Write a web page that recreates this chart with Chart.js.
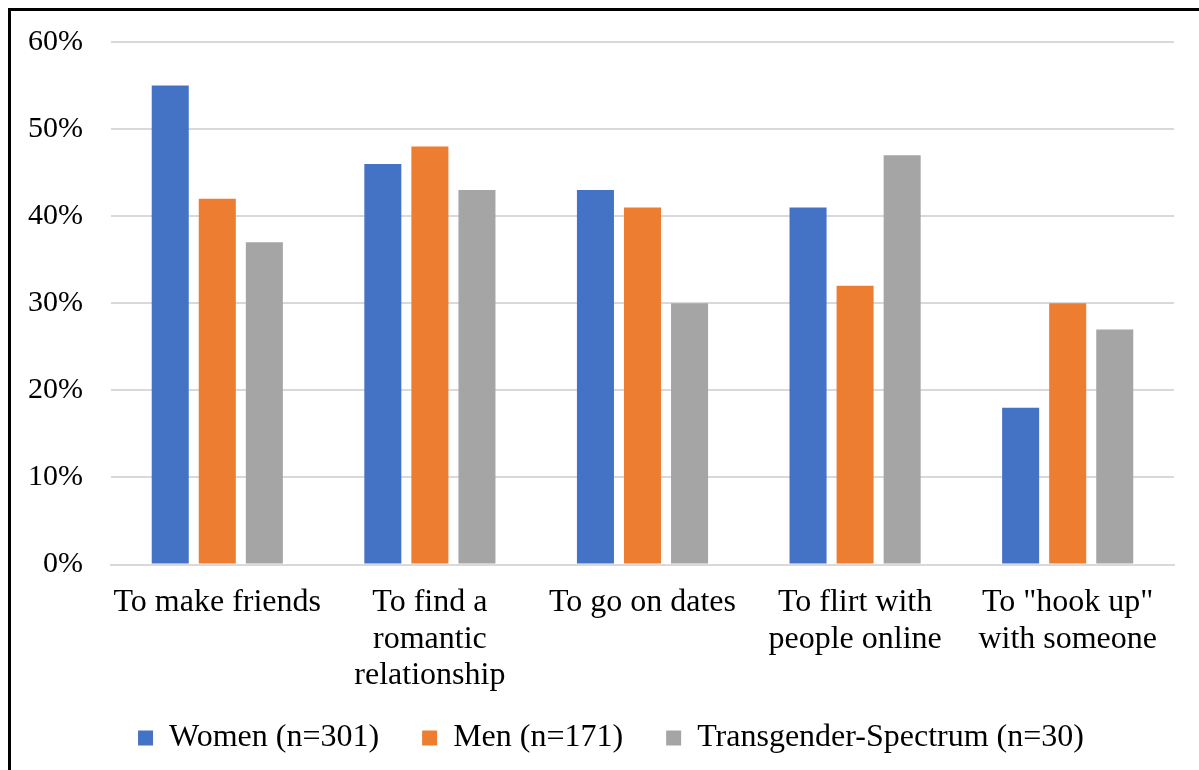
<!DOCTYPE html>
<html>
<head>
<meta charset="utf-8">
<script src="https://cdn.jsdelivr.net/npm/chart.js@4"></script>
<style>
  html, body { margin: 0; padding: 0; background: #fff; overflow: hidden; }
  #frame {
    position: absolute; left: 8px; top: 8px;
    width: 1300px; height: 900px;
    border: 3px solid #000;
  }
  #wrap { position: absolute; left: 0; top: -4px; width: 1199px; height: 774px; }
</style>
</head>
<body>
<div id="frame"></div>
<div id="wrap"><canvas id="reasonsChart" width="1199" height="774"></canvas></div>
<script>
const categories = [
  "To make friends",
  ["To find a", "romantic", "relationship"],
  "To go on dates",
  ["To flirt with", "people online"],
  ["To \"hook up\"", "with someone"],
];
const women = [55, 46, 43, 41, 18];
const men = [42, 48, 41, 32, 30];
const transSpectrum = [37, 43, 30, 47, 27];
const yTicks = [0, 10, 20, 30, 40, 50, 60];

const serif = "'Liberation Serif', 'Times New Roman', serif";

// x labels overlap the legend's top padding, and the legend sits a bit right
const layoutTweaks = {
  id: "layoutTweaks",
  afterLayout: (chart) => {
    chart.scales.x.bottom += 40;
    if (chart.legend) {
      chart.legend.left += 24;
      chart.legend.right += 24;
    }
  },
};

const ctx = document.getElementById("reasonsChart");

new Chart(ctx, {
  type: "bar",
  data: {
    labels: categories,
    datasets: [
      { label: "Women (n=301)", data: women, backgroundColor: "#4472c4" },
      { label: "Men (n=171)", data: men, backgroundColor: "#ed7d31" },
      { label: "Transgender-Spectrum (n=30)", data: transSpectrum, backgroundColor: "#a5a5a5" },
    ],
  },
  options: {
    responsive: false,
    animation: false,
    datasets: {
      bar: { categoryPercentage: 0.664, barPercentage: 0.787 },
    },
    layout: { padding: { top: 12, right: 25, bottom: 6, left: 0 } },
    scales: {
      x: {
        afterFit: (scale) => {
          scale.height -= 27;
        },
        grid: { display: false },
        border: { display: true, color: "#d9d9d9", width: 2 },
        ticks: {
          color: "#000",
          font: { family: serif, size: 32, lineHeight: 1.14 },
          maxRotation: 0,
          autoSkip: false,
          padding: 12,
        },
      },
      y: {
        min: 0,
        max: 60,
        afterBuildTicks: (axis) => {
          axis.ticks = yTicks.map((v) => ({ value: v }));
        },
        grid: { color: "#d9d9d9", lineWidth: 2, drawTicks: false },
        border: { display: false },
        ticks: {
          color: "#000",
          font: { family: serif, size: 30 },
          padding: 28,
          callback: (value) => value + "%",
        },
      },
    },
    plugins: {
      tooltip: { enabled: false },
      legend: {
        position: "bottom",
        labels: {
          color: "#000",
          font: { family: serif, size: 32 },
          boxWidth: 15,
          boxHeight: 15,
          padding: 43,
        },
      },
    },
  },
  plugins: [layoutTweaks],
});
</script>
</body>
</html>
